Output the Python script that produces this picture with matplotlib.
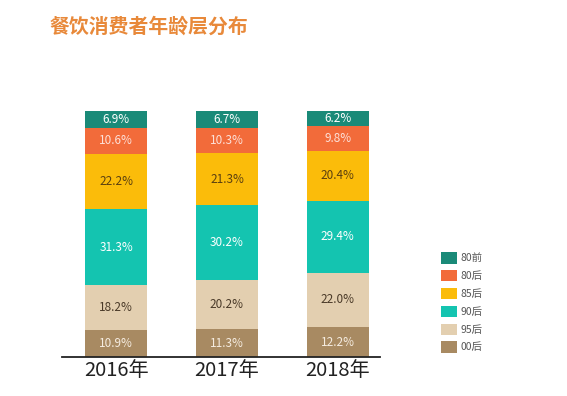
import matplotlib
matplotlib.use("Agg")
import matplotlib.pyplot as plt
from matplotlib.patches import Patch

plt.rcParams['font.family'] = ['Noto Sans CJK SC', 'DejaVu Sans']

years = ["2016年", "2017年", "2018年"]
series = ["00后", "95后", "90后", "85后", "80后", "80前"]
v00 = [10.9, 11.3, 12.2]
v95 = [18.2, 20.2, 22.0]
v90 = [31.3, 30.2, 29.4]
v85 = [22.2, 21.3, 20.4]
v80h = [10.6, 10.3, 9.8]
v80q = [6.9, 6.7, 6.2]
values = [v00, v95, v90, v85, v80h, v80q]
colors = ["#a88a62", "#e3cfb0", "#14c4b0", "#fbbc0a", "#f26b3a", "#1a8a78"]
text_colors = ["#f5ece0", "#4a3a28", "#ffffff", "#5a3f10", "#fde0d8", "#ffffff"]

fig = plt.figure(figsize=(5.67, 3.96), dpi=100)
ax = fig.add_axes([0.109, 0.0985, 0.561, 0.6212])

x = list(range(len(years)))
bottoms = [0.0] * len(years)
for vals, c, tc in zip(values, colors, text_colors):
    ax.bar(x, vals, bottom=bottoms, width=0.56, color=c, edgecolor='none')
    for i, v in enumerate(vals):
        ax.text(x[i], bottoms[i] + v / 2, f"{v:.1f}%", ha='center', va='center',
                fontsize=8.5, color=tc)
    bottoms = [b + v for b, v in zip(bottoms, vals)]

ax.set_xlim(-0.49, 2.38)
ax.set_ylim(0, 100.1)
ax.set_xticks(x)
ax.set_xticklabels(years, fontsize=14.5, color='#222222')
ax.tick_params(axis='x', length=0, pad=2)
ax.set_yticks([])
for s in ['top', 'right', 'left']:
    ax.spines[s].set_visible(False)
ax.spines['bottom'].set_linewidth(1.3)
ax.spines['bottom'].set_color('#222222')

handles = [Patch(facecolor=c, edgecolor='none') for c in colors[::-1]]
fig.legend(handles, series[::-1], loc='upper left', bbox_to_anchor=(0.778, 0.363),
           frameon=False, fontsize=7.5, handlelength=1.5, handleheight=1.3,
           labelspacing=0.62, handletextpad=0.4, labelcolor='#555555',
           borderpad=0, borderaxespad=0)

fig.text(0.088, 0.935, "餐饮消费者年龄层分布", fontsize=14.3, fontweight='bold',
         color='#e8893a', ha='left', va='center')

fig.savefig("out.png", dpi=100)
